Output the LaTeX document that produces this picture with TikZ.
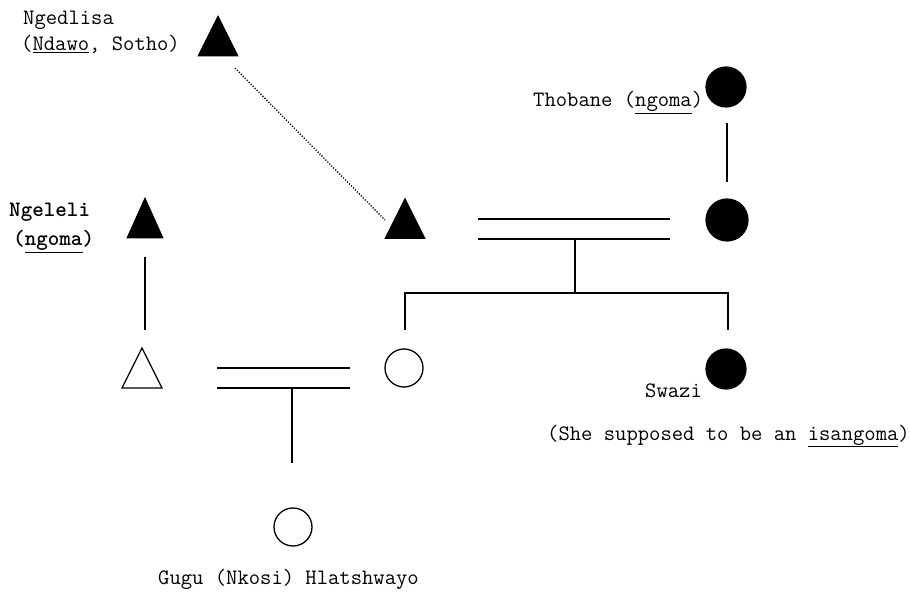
\documentclass[tikz,border=0pt]{standalone}
\begin{document}
\begin{tikzpicture}[x=1pt,y=-1pt,
  lbl/.style={anchor=base west,inner sep=0pt,font=\ttfamily\fontsize{22}{26}\selectfont},
  lblb/.style={lbl,font=\ttfamily\bfseries\fontsize{22}{26}\selectfont},
  fcirc/.style={circle,fill=black,draw=black,line width=1.2pt,inner sep=0pt},
  ocirc/.style={circle,draw=black,line width=1.3pt,inner sep=0pt},
  link/.style={draw=black,line width=1.2pt},
  dots/.style={draw=black,line width=1.3pt,dash pattern=on 1.2pt off 1.6pt},
  tri/.pic={\path[pic actions] (-20,20) -- (0,-20) -- (20,20) -- cycle;},
  ftri/.style={fill=black,draw=black,line width=0.8pt,line join=miter},
  otri/.style={draw=black,line width=1.3pt,line join=miter}]
\useasboundingbox (0,0) rectangle (910,593);
\fill[white] (0,0) rectangle (910,593);

% triangles (male)
\pic[ftri] (ngedlisa) at (218,36) {tri};
\pic[ftri,xscale=0.9] (ngeleli) at (145,218) {tri};
\pic[ftri] (father) at (405,218.5) {tri};
\pic[otri] (husband) at (142,368) {tri};

% circles (female)
\node[fcirc,minimum size=40pt] (thobane) at (726,87) {};
\node[fcirc,minimum size=42pt] (mother) at (727,220) {};
\node[ocirc,minimum size=38pt] (daughter) at (404,368) {};
\node[fcirc,minimum size=40pt] (swazi) at (726,369) {};
\node[ocirc,minimum size=38pt] (gugu) at (293,527) {};

% connector end points
\coordinate (ngedlisaL) at (235,68);
\coordinate (fatherL) at (385,220);
\coordinate (ngeleliD1) at (145,257);
\coordinate (ngeleliD2) at (145,330);
\coordinate (thobD1) at (727,123);
\coordinate (thobD2) at (727,182);
\coordinate (m1a) at (478,219);
\coordinate (m1b) at (670,219);
\coordinate (m2a) at (478,239);
\coordinate (m2b) at (670,239);
\coordinate (desc1) at (575,239);
\coordinate (sib) at (575,293);
\coordinate (sibL) at (405,293);
\coordinate (sibR) at (728,293);
\coordinate (dropL) at (405,330);
\coordinate (dropR) at (728,330);
\coordinate (n1a) at (217,368);
\coordinate (n1b) at (350,368);
\coordinate (n2a) at (217,388);
\coordinate (n2b) at (350,388);
\coordinate (desc2) at (292,388);
\coordinate (desc2e) at (292,463);

% connectors
\draw[dots] (ngedlisaL) -- (fatherL);
\draw[link] (ngeleliD1) -- (ngeleliD2);
\draw[link] (thobD1) -- (thobD2);
\draw[link] (m1a) -- (m1b);
\draw[link] (m2a) -- (m2b);
\draw[link] (desc1) -- (sib);
\draw[link] (dropL) -- (sibL) -- (sibR) -- (dropR);
\draw[link] (n1a) -- (n1b);
\draw[link] (n2a) -- (n2b);
\draw[link] (desc2) -- (desc2e);

% labels
\node[lbl] (tNgedlisa) at (23,25) {Ngedlisa};
\node[lbl] (tNdawo) at (21,51) {(\underline{Ndawo}, Sotho)};
\node[lbl] (tThobane) at (533,107) {Thobane (\underline{ngoma})};
\node[lblb] (tNgeleli) at (9,217) {Ngeleli};
\node[lblb] (tNgoma) at (13,246) {(\underline{ngoma})};
\node[lbl] (tSwazi) at (645,397) {Swazi};
\node[lbl] (tShe) at (547,440) {(She supposed to be an \underline{isangoma})};
\node[lbl] (tGugu) at (158,584) {Gugu (Nkosi) Hlatshwayo};
\end{tikzpicture}
\end{document}
